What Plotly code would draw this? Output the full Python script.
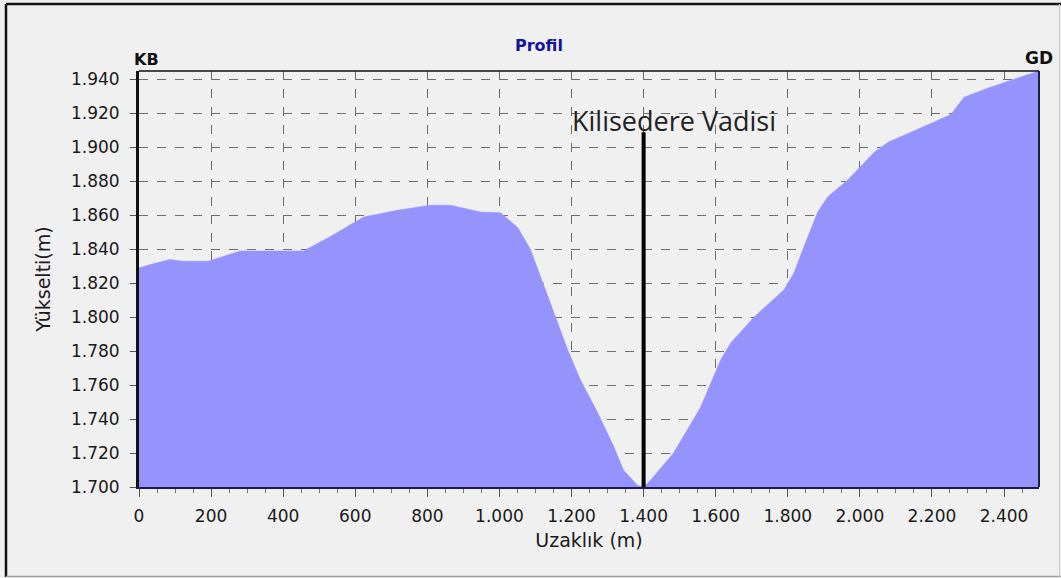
import plotly.graph_objects as go

# Elevation profile (KB -> GD), distance and elevation in metres
distance_m = [0, 31, 86, 122, 192, 281, 360, 456, 531, 623, 717, 808, 864, 947,
              1003, 1050, 1086, 1114, 1150, 1189, 1225, 1272, 1317, 1344, 1383,
              1400, 1419, 1483, 1558, 1614, 1642, 1706, 1789, 1817, 1842, 1883,
              1911, 1967, 2039, 2078, 2206, 2253, 2289, 2356, 2411, 2497]
elevation_m = [1829, 1831, 1834, 1833, 1833, 1839, 1839, 1839, 1847.5, 1859,
               1863, 1866, 1866, 1862, 1861.5, 1853, 1840, 1824, 1803, 1781,
               1763, 1744, 1724, 1710, 1701, 1700, 1704, 1720, 1747, 1775, 1785,
               1800, 1816, 1826, 1840, 1862, 1871, 1881, 1897, 1903, 1915,
               1919.5, 1929.5, 1935, 1939, 1945]

# Valley marker
valley_name = "Kilisedere Vadisi"
valley_x = 1400
valley_top = 1909

x_ticks = list(range(0, 2401, 200))
y_ticks = list(range(1700, 1941, 20))

W, H = 1061, 578
ML, MR, MT, MB = 139, 22, 71, 91
PW, PH = W - ML - MR, H - MT - MB

SANS = "DejaVu Sans, Verdana, sans-serif"


def px_x(p):
    return (p - ML) / PW


def px_y(p):
    return (H - MB - p) / PH


fig = go.Figure()

fig.add_trace(go.Scatter(
    x=distance_m, y=elevation_m, mode="lines",
    line=dict(color="#9494fc", width=0.5),
    fill="tozeroy", fillcolor="#9494fc",
    hoverinfo="x+y", showlegend=False,
))

fig.add_trace(go.Scatter(
    x=[valley_x, valley_x], y=[y_ticks[0], valley_top], mode="lines",
    line=dict(color="black", width=4), showlegend=False, hoverinfo="skip",
))

tick_font = dict(family=SANS, size=17, color="#1a1a1a")
title_font = dict(family=SANS, size=19, color="#1a1a1a")

fig.update_layout(
    width=W, height=H,
    margin=dict(l=ML, r=MR, t=MT, b=MB, pad=0),
    paper_bgcolor="#f0f0f0",
    plot_bgcolor="#f0f0f0",
    separators=",.",
    font=tick_font,
    xaxis=dict(
        range=[0, 2497], tickvals=x_ticks, tickformat=",d",
        showgrid=True, gridcolor="#6e6e6e", griddash="dash", gridwidth=1,
        ticks="outside", ticklen=8, tickcolor="#555555", tickwidth=1,
        ticklabelstandoff=5,
        minor=dict(dtick=50, ticks="outside", ticklen=4, tickcolor="#777777", showgrid=False),
        showline=True, linecolor="#1c1c50", linewidth=2, mirror=False,
        zeroline=False, tickfont=tick_font,
        title=dict(text="Uzaklık (m)", font=title_font, standoff=8),
    ),
    yaxis=dict(
        range=[1700, 1945], tickvals=y_ticks, tickformat=",d",
        showgrid=True, gridcolor="#6e6e6e", griddash="dash", gridwidth=1,
        ticks="outside", ticklen=6, tickcolor="#555555", tickwidth=1,
        ticklabelstandoff=7,
        showline=True, linecolor="#111111", linewidth=3, mirror=False,
        zeroline=False, tickfont=tick_font,
        title=dict(text="Yükselti(m)", font=title_font, standoff=16),
    ),
)

shapes = [
    # top and right frame of the plot area
    dict(type="line", xref="paper", yref="paper", x0=0, x1=1, y0=1, y1=1,
         line=dict(color="#111111", width=1.5)),
    dict(type="line", xref="paper", yref="paper", x0=1, x1=1, y0=0, y1=1,
         line=dict(color="#1c1c50", width=2)),
    # outer border of the panel
    dict(type="line", xref="paper", yref="paper", x0=px_x(6), x1=px_x(6), y0=px_y(577), y1=px_y(4),
         line=dict(color="#111111", width=2.5)),
    dict(type="line", xref="paper", yref="paper", x0=px_x(6), x1=px_x(1061), y0=px_y(4), y1=px_y(4),
         line=dict(color="#111111", width=2.5)),
    dict(type="line", xref="paper", yref="paper", x0=px_x(6), x1=px_x(1061), y0=px_y(576.5), y1=px_y(576.5),
         line=dict(color="#a0a0a0", width=1.5)),
    dict(type="line", xref="paper", yref="paper", x0=px_x(1059.5), x1=px_x(1059.5), y0=px_y(577), y1=px_y(4),
         line=dict(color="#c8c8c8", width=1)),
]
fig.update_layout(shapes=shapes)

annotations = [
    dict(text="<b>Profil</b>", xref="paper", yref="paper", x=px_x(539), y=px_y(45),
         showarrow=False, xanchor="center", yanchor="middle",
         font=dict(family=SANS, size=16, color="#14149a")),
    dict(text="<b>KB</b>", xref="paper", yref="paper", x=px_x(132), y=px_y(59),
         showarrow=False, xanchor="left", yanchor="middle",
         font=dict(family=SANS, size=16, color="#111111")),
    dict(text="<b>GD</b>", xref="paper", yref="paper", x=px_x(1055), y=px_y(58),
         showarrow=False, xanchor="right", yanchor="middle",
         font=dict(family=SANS, size=17, color="#111111")),
    dict(text=valley_name, x=valley_x, y=valley_top, xref="x", yref="y",
         showarrow=False, xanchor="center", yanchor="bottom", xshift=30, yshift=-9,
         font=dict(family="Open Sans, sans-serif", size=27, color="#222222")),
]
fig.update_layout(annotations=annotations)

fig.write_html("out.html")
